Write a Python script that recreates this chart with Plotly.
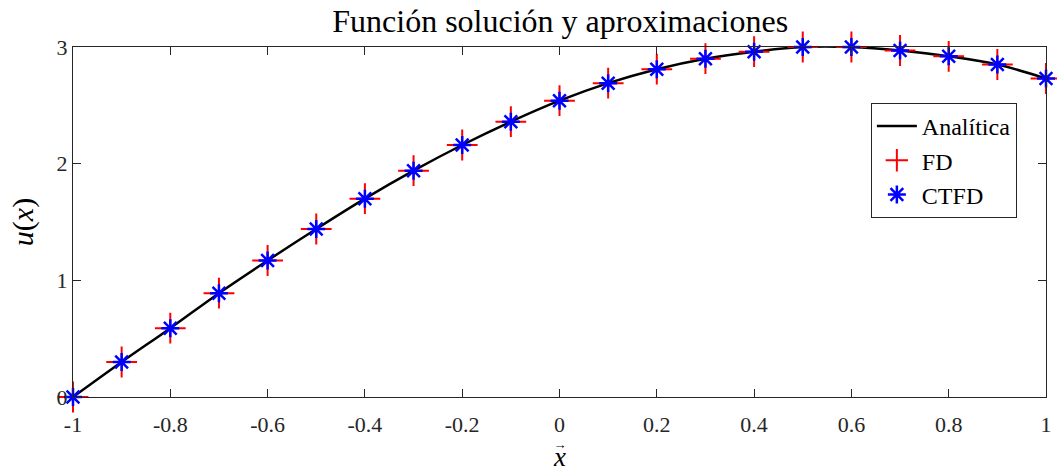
import plotly.graph_objects as go

x_vals = [-1.0, -0.9, -0.8, -0.7, -0.6, -0.5, -0.4, -0.3, -0.2, -0.1, 0.0,
          0.1, 0.2, 0.3, 0.4, 0.5, 0.6, 0.7, 0.8, 0.9, 1.0]
u_analitica = [0.00, 0.30, 0.59, 0.89, 1.17, 1.44, 1.70, 1.94, 2.16, 2.36, 2.54,
               2.69, 2.81, 2.90, 2.96, 3.00, 3.00, 2.97, 2.92, 2.85, 2.73]
u_fd = list(u_analitica)
u_ctfd = list(u_analitica)

x_ticks = [-1, -0.8, -0.6, -0.4, -0.2, 0, 0.2, 0.4, 0.6, 0.8, 1]
x_ticktext = ["-1", "-0.8", "-0.6", "-0.4", "-0.2", "0", "0.2", "0.4", "0.6", "0.8", "1"]
y_ticks = [0, 1, 2, 3]

FONT = "Liberation Serif"
AX = "#262626"

fig = go.Figure()
fig.add_trace(go.Scatter(x=x_vals, y=u_analitica, mode="lines", name="Analítica",
                         line=dict(color="black", width=2.5, shape="spline"),
                         cliponaxis=False))
fig.add_trace(go.Scatter(x=x_vals, y=u_fd, mode="markers", name="FD",
                         marker=dict(symbol="cross-thin-open", size=22, color="#ff0000",
                                     line=dict(color="#ff0000", width=2)),
                         cliponaxis=False))
fig.add_trace(go.Scatter(x=x_vals, y=u_ctfd, mode="markers", name="CTFD",
                         marker=dict(symbol="asterisk-open", size=15, color="#0000ff",
                                     line=dict(color="#0000ff", width=2.5)),
                         cliponaxis=False))

fig.update_layout(
    width=1057, height=473,
    margin=dict(l=73, r=11, t=47, b=76, autoexpand=False),
    plot_bgcolor="white", paper_bgcolor="white",
    font=dict(family=FONT, color="black", size=22),
    title=dict(text="Función solución y aproximaciones", x=0.53, xanchor="center",
               y=0.955, yanchor="middle", font=dict(family=FONT, size=32, color="black")),
    legend=dict(x=0.820, y=0.84, xanchor="left", yanchor="top",
                bordercolor=AX, borderwidth=1, bgcolor="white",
                font=dict(family=FONT, size=24, color="black"),
                itemwidth=40, tracegroupgap=0),
    showlegend=True,
    annotations=[dict(text="→<br><span style='font-size:27px'><i>x</i></span>",
                      xref="paper", yref="paper", x=0.5, y=-0.108,
                      xanchor="center", yanchor="top", showarrow=False,
                      font=dict(family=FONT, size=13, color="black"))],
)
fig.update_xaxes(range=[-1, 1], tickvals=x_ticks, ticktext=x_ticktext,
                 showgrid=False, zeroline=False, showline=True, linecolor=AX, linewidth=1,
                 mirror="ticks", ticks="inside", ticklen=8, tickcolor=AX,
                 ticklabelstandoff=8,
                 tickfont=dict(family=FONT, size=22, color=AX))
fig.update_yaxes(range=[0, 3], tickvals=y_ticks,
                 showgrid=False, zeroline=False, showline=True, linecolor=AX, linewidth=1,
                 mirror="ticks", ticks="inside", ticklen=8, tickcolor=AX,
                 tickfont=dict(family=FONT, size=22, color=AX),
                 title=dict(text="<i>u</i>(<i>x</i>)", standoff=14,
                            font=dict(family=FONT, size=30, color="black")))

fig.write_html("out.html")
